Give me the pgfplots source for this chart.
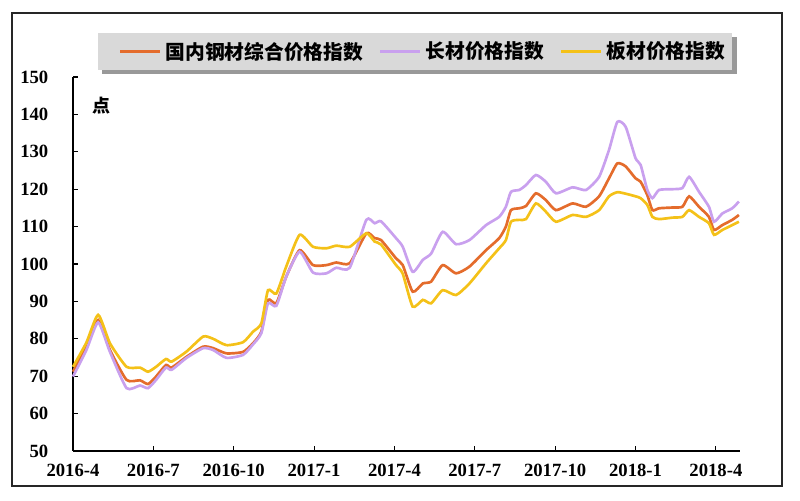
\documentclass[border=0pt]{standalone}
\usepackage{fontspec}
\setmainfont{Liberation Serif}
\newfontfamily\cjk{Noto Sans CJK SC}
\usepackage{pgfplots}
\pgfplotsset{compat=1.18}
\usepackage{pgfplotstable}
\usetikzlibrary{backgrounds}

\definecolor{compc}{HTML}{E46C2C}
\definecolor{longc}{HTML}{C9A0EE}
\definecolor{platec}{HTML}{F4C118}
\definecolor{legbg}{HTML}{D9D9D9}

% months after 2016-4, index values (points)
\pgfplotstableread{
m     comp   long   plate
0     71.2   69.9   72.5
0.5   78.0   77.0   79.0
0.94  85.0   84.4   86.4
1.38  77.0   76.5   78.8
2.0   69.0   66.8   72.5
2.5   68.9   67.5   72.3
2.8   67.9   66.8   71.2
3.1   69.9   69.0   72.5
3.47  73.0   72.3   74.6
3.68  72.3   71.7   73.9
4.24  75.2   74.9   76.6
4.86  77.9   77.5   80.6
5.23  77.5   77.0   80.0
5.73  76.1   74.9   78.3
6.35  76.5   75.7   79.1
6.72  78.8   78.5   81.9
7.03  81.9   81.5   84.1
7.28  90.4   89.5   93.0
7.59  89.5   88.8   92.1
7.96  96.6   96.6   99.3
8.46  103.7  103.3  107.8
8.96  99.7   97.7   104.6
9.46  99.7   97.5   104.2
9.83  100.4  99.0   104.9
10.33 100.2  99.0   104.6
10.95 108.2  111.8  108.2
11.26 106.9  110.9  106.0
11.5  106.4  111.4  105.2
12.06 101.5  106.9  99.7
12.31 99.7   104.6  97.4
12.68 92.6   97.9   88.6
13.06 94.8   101.1  90.4
13.37 95.3   102.8  89.5
13.8  99.7   108.6  93.0
14.3  97.5   105.3  91.7
14.8  99.3   106.4  94.8
15.42 103.7  110.4  100.2
15.91 106.9  112.6  104.2
16.16 110.0  115.3  106.4
16.35 114.4  119.3  111.3
16.66 114.9  119.8  111.8
16.91 115.5  121.1  112.0
17.28 118.9  123.8  116.2
17.65 117.1  122.0  114.0
18.03 114.4  118.9  111.3
18.65 116.2  120.5  113.1
19.15 115.3  119.8  112.6
19.64 118.1  123.3  114.4
20.01 122.9  130.5  118.1
20.32 126.9  138.0  119.2
20.63 126.1  136.7  118.8
21.0  122.9  128.3  118.1
21.19 122.0  126.5  117.6
21.44 118.4  119.8  115.8
21.63 114.4  117.6  112.6
21.88 114.9  119.8  112.0
22.38 115.1  120.0  112.4
22.75 115.3  120.3  112.6
23.0  118.1  123.3  114.4
23.37 115.3  119.3  112.6
23.74 112.6  115.3  110.9
23.93 109.1  111.3  107.8
24.24 110.4  113.5  109.1
24.61 111.8  114.9  110.4
24.86 113.1  116.7  111.3
}\steel

\begin{document}
\begin{tikzpicture}[x=0.75pt,y=0.75pt]
\path[use as bounding box] (0,0) rectangle (800,500);
\draw[black!85, line width=0.9pt] (12,14) rectangle (782,487);
\begin{axis}[
    at={(54.75pt,36.75pt)}, anchor=south west,
    scale only axis,
    width=500.25pt, height=280.5pt,
    xmin=0, xmax=24.9,
    ymin=50, ymax=150,
    axis lines*=left,
    axis line style={-, line width=0.9pt, black},
    tick align=inside,
    major tick length=4pt,
    tick style={black, line width=0.8pt},
    xtick={0,3,...,24},
    xticklabels={2016-4,2016-7,2016-10,2017-1,2017-4,2017-7,2017-10,2018-1,2018-4},
    ytick={50,60,...,150},
    /pgf/number format/assume math mode=true,
    ticklabel style={font=\bfseries\fontsize{14}{14}\selectfont},
    yticklabel style={xshift=-15pt},
    xticklabel style={yshift=-6pt},
    clip=false,
    legend columns=3,
    legend image code/.code={%
        \path (0pt,0pt) (43pt,0pt);
        \draw[#1, line width=2.6pt] (11pt,0pt) -- (41pt,0pt);},
    legend style={
        name=leg,
        at={(axis description cs:0.0375,1.0187)}, anchor=south west,
        fill=legbg, draw=none,
        inner xsep=4.5pt, inner ysep=5.5pt,
        nodes={inner sep=1pt},
        font=\cjk\bfseries\fontsize{14.8}{15}\selectfont,
    },
]
\addplot[compc, line width=2pt, smooth, tension=0.35] table[x=m, y=comp] {\steel};
\addplot[longc, line width=2pt, smooth, tension=0.35] table[x=m, y=long] {\steel};
\addplot[platec, line width=2pt, smooth, tension=0.35] table[x=m, y=plate] {\steel};
\legend{国内钢材综合价格指数, 长材价格指数, 板材价格指数}
\node[font=\cjk\bfseries\fontsize{13.5}{14}\selectfont] at (axis description cs:0.042,0.924) {点};
\end{axis}
\begin{pgfonlayer}{background}
\fill[black!40] ([shift={(3pt,-3pt)}]leg.south west) rectangle ([shift={(3pt,-3pt)}]leg.north east);
\end{pgfonlayer}
\end{tikzpicture}
\end{document}
